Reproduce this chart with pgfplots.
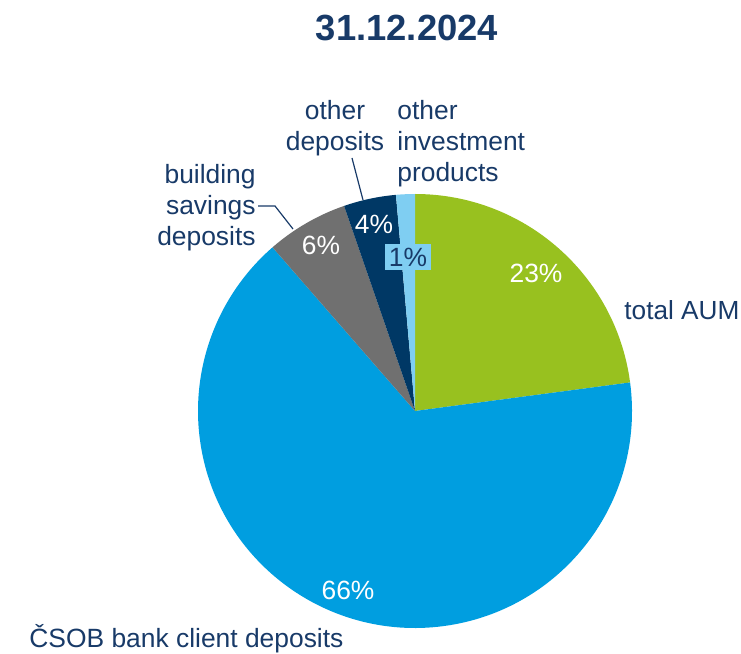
\documentclass[border=0pt]{standalone}
\usepackage{pgfplots}
\usepackage{pgfplotstable}
\pgfplotsset{compat=1.18}
\usepackage{fontspec}
\setmainfont{Liberation Sans}
\definecolor{txt}{RGB}{24,58,104}
\definecolor{caum}{RGB}{152,193,31}
\definecolor{cbank}{RGB}{0,158,224}
\definecolor{cbs}{RGB}{112,112,112}
\definecolor{cod}{RGB}{0,56,101}
\definecolor{coip}{RGB}{127,206,242}
\pgfplotstableread{
label value
aum 22.9
bank 65.7
bs 6.1
od 3.9
oip 1.4
}\piedata
\begin{document}
\begin{tikzpicture}
\pgfplotstablegetelem{0}{value}\of\piedata \let\va\pgfplotsretval
\pgfplotstablegetelem{1}{value}\of\piedata \let\vb\pgfplotsretval
\pgfplotstablegetelem{2}{value}\of\piedata \let\vc\pgfplotsretval
\pgfplotstablegetelem{3}{value}\of\piedata \let\vd\pgfplotsretval
\pgfplotstablegetelem{4}{value}\of\piedata \let\ve\pgfplotsretval
\pgfmathsetmacro{\aA}{90}
\pgfmathsetmacro{\aB}{\aA-3.6*\va}
\pgfmathsetmacro{\aC}{\aB-3.6*\vb}
\pgfmathsetmacro{\aD}{\aC-3.6*\vc}
\pgfmathsetmacro{\aE}{\aD-3.6*\vd}
\pgfmathsetmacro{\aF}{\aE-3.6*\ve}
\begin{axis}[
  x=0.5pt, y=0.5pt,
  xmin=0, xmax=741, ymin=0, ymax=654,
  hide axis, clip=false, scale only axis,
]
\path (axis cs:0,0) rectangle (axis cs:741,654);
\fill[caum] (axis cs:415,243) -- ++(\aA:108.5pt) arc[start angle=\aA, end angle=\aB, radius=108.5pt] -- cycle;
\fill[cbank] (axis cs:415,243) -- ++(\aB:108.5pt) arc[start angle=\aB, end angle=\aC, radius=108.5pt] -- cycle;
\fill[cbs] (axis cs:415,243) -- ++(\aC:108.5pt) arc[start angle=\aC, end angle=\aD, radius=108.5pt] -- cycle;
\fill[cod] (axis cs:415,243) -- ++(\aD:108.5pt) arc[start angle=\aD, end angle=\aE, radius=108.5pt] -- cycle;
\fill[coip] (axis cs:415,243) -- ++(\aE:108.5pt) arc[start angle=\aE, end angle=\aF, radius=108.5pt] -- cycle;
% title
\node[text=txt, font=\fontsize{18.2}{21}\selectfont\bfseries] at (axis cs:407,626) {31.12.2024};
% percentage labels
\begin{scope}[every node/.style={font=\fontsize{13.2}{15.5}\selectfont, inner sep=1pt}]
\node[text=white] at (axis cs:536,381) {23\%};
\node[text=white] at (axis cs:348,64) {66\%};
\node[text=white] at (axis cs:321,409) {6\%};
\node[text=white] at (axis cs:374,430) {4\%};
\node[text=txt, fill=coip, inner sep=2pt] at (axis cs:408,397) {1\%};
% category labels
\node[text=txt, anchor=west, inner sep=0pt, font=\fontsize{13.1}{15.5}\selectfont] at (axis cs:624,344) {total AUM};
\node[text=txt, anchor=west, inner sep=0pt] at (axis cs:29,15) {ČSOB bank client deposits};
\node[text=txt, anchor=east, align=right] at (axis cs:258,446) {building\\savings\\deposits};
\node[text=txt, align=center] at (axis cs:335,526) {other\\deposits};
\node[text=txt, anchor=west, align=left] at (axis cs:395,510) {other\\investment\\products};
\end{scope}
\draw[txt, line width=0.6pt] (axis cs:258,448) -- (axis cs:275,448) -- (axis cs:293,425);
\draw[txt, line width=0.6pt] (axis cs:352,496) -- (axis cs:363,454);
\end{axis}
\end{tikzpicture}
\end{document}
